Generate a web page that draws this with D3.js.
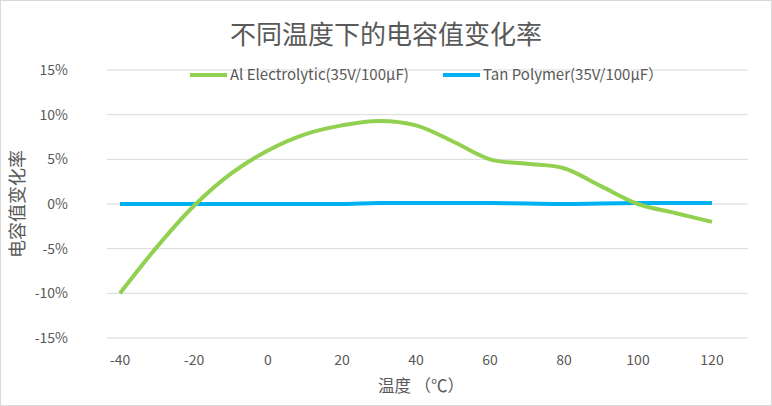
<!DOCTYPE html>
<html><head><meta charset="utf-8">
<script src="https://cdn.jsdelivr.net/npm/d3@7"></script>
<style>body{margin:0;background:#fff;font-family:"Noto Sans CJK SC","Noto Sans",sans-serif}</style>
</head><body><svg id="c" width="772" height="406"></svg>
<script>
const temps=[-40,-30,-20,-10,0,10,20,30,40,50,60,70,80,90,100,110,120];
const alValues=[-10,-4.8,-0.2,3.4,6,7.8,8.8,9.3,8.8,7,5,4.5,4,2,0,-1,-2];
const tanValues=[0,0,0,0,0,0,0,0.1,0.1,0.1,0.1,0.05,0,0.05,0.1,0.1,0.1];
const yTicks=[-15,-10,-5,0,5,10,15];
const xTicks=[-40,-20,0,20,40,60,80,100,120];
const svg=d3.select("#c");
svg.append("rect").attr("x",0.5).attr("y",0.5).attr("width",771).attr("height",405).attr("fill","#fff").attr("stroke","#d9d9d9");
const x=d3.scaleLinear().domain([-40,120]).range([120,712]);
const y=d3.scaleLinear().domain([-15,15]).range([338,70]);
svg.append("g").selectAll("line").data(yTicks).join("line")
 .attr("x1",107).attr("x2",748).attr("y1",d=>y(d)).attr("y2",d=>y(d))
 .attr("stroke","#d9d9d9");
svg.append("g").selectAll("text").data(yTicks).join("text")
 .attr("x",68).attr("y",d=>y(d)+5).attr("text-anchor","end").attr("font-size",14).attr("fill","#595959")
 .text(d=>d+"%");
svg.append("g").selectAll("text").data(xTicks).join("text")
 .attr("x",d=>x(d)).attr("y",365).attr("text-anchor","middle").attr("font-size",14).attr("fill","#595959")
 .text(d=>d);
const line=d3.line().x((d,i)=>x(temps[i])).y(d=>y(d)).curve(d3.curveCatmullRom.alpha(0.5));
svg.append("path").attr("d",line(tanValues)).attr("fill","none").attr("stroke","#00b0f0").attr("stroke-width",4);
svg.append("path").attr("d",line(alValues)).attr("fill","none").attr("stroke","#92d050").attr("stroke-width",4);
svg.append("text").attr("x",386).attr("y",44).attr("text-anchor","middle").attr("font-size",26).attr("fill","#595959").text("不同温度下的电容值变化率");
svg.append("text").attr("transform","translate(24,204) rotate(-90)").attr("text-anchor","middle").attr("font-size",18).attr("fill","#595959").text("电容值变化率");
svg.append("text").attr("x",421).attr("y",392).attr("text-anchor","middle").attr("font-size",16.5).attr("fill","#595959").text("温度 （℃）");
const leg=[["Al Electrolytic(35V/100µF)","#92d050",190],["Tan Polymer(35V/100µF）","#00b0f0",443]];
leg.forEach(([t,c,lx])=>{
 svg.append("line").attr("x1",lx).attr("x2",lx+37).attr("y1",75).attr("y2",75).attr("stroke",c).attr("stroke-width",4);
 svg.append("text").attr("x",lx+40).attr("y",80).attr("font-size",15).attr("fill","#595959").text(t);
});
</script></body></html>
